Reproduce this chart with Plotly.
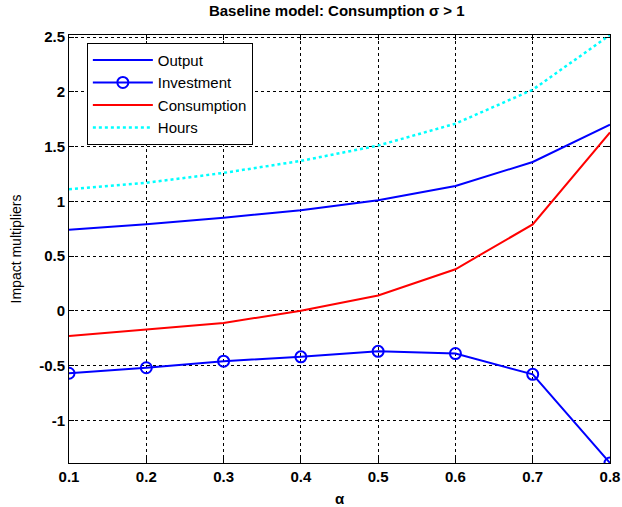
import plotly.graph_objects as go

alpha = [0.1, 0.2, 0.3, 0.4, 0.5, 0.6, 0.7, 0.8]
output = [0.74, 0.79, 0.85, 0.92, 1.01, 1.14, 1.36, 1.70]
investment = [-0.57, -0.52, -0.46, -0.42, -0.37, -0.39, -0.58, -1.39]
consumption = [-0.23, -0.17, -0.11, 0.00, 0.14, 0.38, 0.79, 1.63]
hours = [1.11, 1.17, 1.26, 1.37, 1.51, 1.71, 2.02, 2.52]

x_ticks = [0.1, 0.2, 0.3, 0.4, 0.5, 0.6, 0.7, 0.8]
y_ticks = [-1, -0.5, 0, 0.5, 1, 1.5, 2, 2.5]

font = "Arial, Liberation Sans, sans-serif"

fig = go.Figure()
fig.add_trace(go.Scatter(x=alpha, y=output, name="Output", mode="lines",
                         line=dict(color="#0000ff", width=2)))
fig.add_trace(go.Scatter(x=alpha, y=investment, name="Investment", mode="lines+markers",
                         line=dict(color="#0000ff", width=2),
                         marker=dict(symbol="circle-open", size=11,
                                     line=dict(color="#0000ff", width=2))))
fig.add_trace(go.Scatter(x=alpha, y=consumption, name="Consumption", mode="lines",
                         line=dict(color="#ff0000", width=2)))
fig.add_trace(go.Scatter(x=alpha, y=hours, name="Hours", mode="lines",
                         line=dict(color="#00ffff", width=2.5, dash="dot")))

axis_common = dict(
    showline=True, linecolor="black", linewidth=1, mirror="ticks",
    ticks="inside", ticklen=5, tickcolor="black",
    showgrid=True, gridcolor="black", gridwidth=1, griddash="3px,3px",
    zeroline=False, automargin=False,
    tickfont=dict(family=font, size=15, color="black", weight="bold"),
)

fig.update_layout(
    width=622, height=507,
    margin=dict(l=69, r=12, t=35, b=44),
    paper_bgcolor="white", plot_bgcolor="white",
    title=dict(text="<b>Baseline model: Consumption σ > 1</b>",
               x=0.495, xanchor="center", xref="paper", y=1, yref="container",
               yanchor="top", pad=dict(t=5),
               font=dict(family=font, size=15, color="black")),
    xaxis=dict(range=[0.1, 0.8], tickvals=x_ticks, ticktext=[f"{v:g}" for v in x_ticks],
               title=dict(text="<b>α</b>", standoff=10,
                          font=dict(family=font, size=15, color="black")),
               **axis_common),
    yaxis=dict(range=[-1.39, 2.52], tickvals=y_ticks, ticktext=[f"{v:g}" for v in y_ticks],
               title=dict(text="Impact multipliers", standoff=14,
                          font=dict(family=font, size=14, color="black")),
               **axis_common),
    legend=dict(x=0.033, y=0.982, xanchor="left", yanchor="top",
                bgcolor="white", bordercolor="black", borderwidth=1,
                font=dict(family=font, size=15, color="black"),
                itemwidth=60, tracegroupgap=2),
    showlegend=True,
)

fig.write_html("out.html")
